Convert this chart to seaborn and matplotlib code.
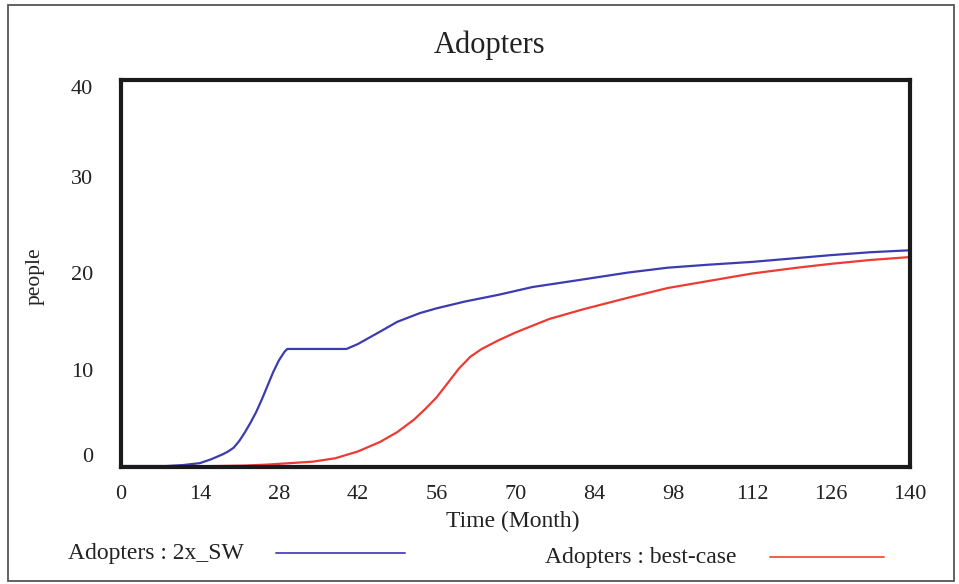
import numpy as np
import pandas as pd
import matplotlib
matplotlib.use("Agg")
import matplotlib.pyplot as plt
from matplotlib.lines import Line2D
from matplotlib.patches import Rectangle
import seaborn as sns

# Simulation output: Adopters over time for two scenarios
months_2x_sw = [0, 8, 11, 14, 16, 18, 19, 20, 21, 22, 23, 24, 25, 26, 27, 28, 29,
                29.5, 35, 40, 42, 46, 49, 53, 56, 61, 67, 73, 81, 90, 97, 104,
                112, 120, 126, 133, 140]
adopters_2x_sw = [0.1, 0.1, 0.2, 0.4, 0.8, 1.3, 1.6, 2.0, 2.7, 3.6, 4.6, 5.7, 7.0,
                  8.4, 9.8, 11.0, 11.9, 12.2, 12.2, 12.2, 12.7, 14.0, 15.0, 15.9,
                  16.4, 17.1, 17.8, 18.6, 19.3, 20.1, 20.6, 20.9, 21.2, 21.6,
                  21.9, 22.2, 22.4]

months_best = [0, 10, 17, 22, 26, 30, 34, 38, 42, 46, 49, 52, 54, 56, 58, 60, 62,
               64, 67, 70, 76, 82, 90, 97, 104, 112, 120, 126, 133, 140]
adopters_best = [0.05, 0.05, 0.1, 0.15, 0.25, 0.4, 0.55, 0.9, 1.6, 2.6, 3.6, 4.9,
                 6.0, 7.2, 8.7, 10.2, 11.4, 12.2, 13.1, 13.9, 15.3, 16.3, 17.5,
                 18.5, 19.2, 20.0, 20.6, 21.0, 21.4, 21.7]

series_names = ["Adopters : 2x_SW", "Adopters : best-case"]
x_ticks = [0, 14, 28, 42, 56, 70, 84, 98, 112, 126, 140]
y_ticks = [0, 10, 20, 30, 40]

blue = "#3c3cb0"
red = "#ec3b33"
legend_red = "#f2603c"

df = pd.concat([
    pd.DataFrame({"Time": months_2x_sw, "people": adopters_2x_sw, "run": series_names[0]}),
    pd.DataFrame({"Time": months_best, "people": adopters_best, "run": series_names[1]}),
])

sns.set_style("white")
plt.rcParams["font.family"] = ["Liberation Serif", "DejaVu Serif"]

fig = plt.figure(figsize=(9.59, 5.84), dpi=100)
ax = fig.add_axes([121 / 959, 1 - 467 / 584, (910 - 121) / 959, (467 - 80) / 584])

sns.lineplot(data=df, x="Time", y="people", hue="run",
             palette={series_names[0]: blue, series_names[1]: red},
             linewidth=1.6, legend=False, ax=ax, estimator=None, sort=False)

ax.set_xlim(0, 140)
ax.set_ylim(0, 40)
ax.set_xticks(x_ticks)
ax.set_xticklabels([str(t) for t in x_ticks], fontsize=16)
ax.set_yticks(y_ticks)
ax.set_yticklabels([str(t) for t in y_ticks], fontsize=16)
ax.tick_params(axis="x", length=0, pad=13, colors="#222222")
ax.tick_params(axis="y", length=0, pad=20, colors="#222222")
ylabels = ax.get_yticklabels()
ylabels[0].set_va("bottom")
ylabels[-1].set_va("top")

for side in ["left", "right", "top", "bottom"]:
    ax.spines[side].set_visible(True)
    ax.spines[side].set_linewidth(3.0)
    ax.spines[side].set_color("#1a1a1a")

ax.set_xlabel("")
ax.set_ylabel("")

fig.text(513 / 959, 1 - 521 / 584, "Time (Month)", fontsize=17,
         ha="center", va="center", color="#222222")
fig.text(35 / 959, 1 - 276 / 584, "people", fontsize=15.5, rotation=90,
         ha="center", va="center", color="#222222")
fig.text(490 / 959, 1 - 45 / 584, "Adopters", fontsize=22,
         ha="center", va="center", color="#222222")

# Legend row beneath the axes
fig.text(68 / 959, 1 - 553 / 584, series_names[0], fontsize=17,
         ha="left", va="center", color="#222222")
fig.add_artist(Line2D([276 / 959, 405 / 959], [1 - 553 / 584, 1 - 553 / 584],
                      color="#5a4fc0", linewidth=1.4, transform=fig.transFigure))
fig.text(545 / 959, 1 - 557 / 584, series_names[1], fontsize=17,
         ha="left", va="center", color="#222222")
fig.add_artist(Line2D([770 / 959, 884 / 959], [1 - 557 / 584, 1 - 557 / 584],
                      color=legend_red, linewidth=1.4, transform=fig.transFigure))

# Outer frame around the whole chart
fig.add_artist(Rectangle((8 / 959, 1 - 581 / 584), (954 - 8) / 959, (581 - 5) / 584,
                         fill=False, edgecolor="#555555", linewidth=1.3,
                         transform=fig.transFigure))

fig.savefig("out.png", dpi=100)
